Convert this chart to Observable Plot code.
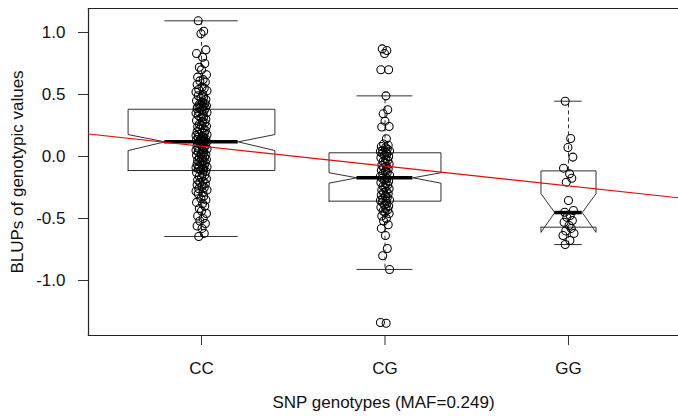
<!DOCTYPE html>
<html><head><meta charset="utf-8">
<script src="https://cdn.jsdelivr.net/npm/d3@7"></script>
<script src="https://cdn.jsdelivr.net/npm/@observablehq/plot@0.6"></script>
<style>body{margin:0;background:#fff}</style>
</head><body><div id="chart"></div>
<script>
// ---- data ----
const categories = ["CC", "CG", "GG"];
const whiskerLow  = [-0.645, -0.911, -0.71];
const q1          = [-0.113, -0.36, -0.57];
const notchLow    = [0.048, -0.215, -0.612];
const median      = [0.118, -0.172, -0.452];
const notchHigh   = [0.177, -0.131, -0.30];
const q3          = [0.381, 0.03, -0.116];
const whiskerHigh = [1.094, 0.489, 0.446];

const ccValues = [1.094, 1.01, 0.99, 0.86, 0.83, 0.80, 0.75, 0.72, 0.70, 0.66, 0.64, 0.62, 0.61, 0.60, 0.58, 0.56, 0.55, 0.54, 0.53, 0.52, 0.50, 0.49, 0.48, 0.47, 0.46, 0.45, 0.44, 0.43, 0.42, 0.42, 0.41, 0.40, 0.40, 0.39, 0.39, 0.385,
  0.375, 0.37, 0.36, 0.355, 0.35, 0.34, 0.33, 0.32, 0.31, 0.30, 0.29, 0.28, 0.27, 0.26, 0.25, 0.245, 0.24, 0.23, 0.22, 0.21, 0.20, 0.195, 0.19, 0.18, 0.175, 0.17, 0.16, 0.155, 0.15, 0.145, 0.14, 0.135, 0.13, 0.125, 0.12, 0.12,
  0.115, 0.11, 0.105, 0.10, 0.09, 0.085, 0.08, 0.07, 0.065, 0.06, 0.05, 0.045, 0.04, 0.03, 0.02, 0.015, 0.01, 0.0, -0.005, -0.01, -0.02, -0.025, -0.03, -0.04, -0.045, -0.05, -0.06, -0.065, -0.07, -0.08, -0.085, -0.09, -0.095, -0.10, -0.105, -0.11,
  -0.12, -0.13, -0.14, -0.15, -0.16, -0.17, -0.18, -0.19, -0.20, -0.21, -0.22, -0.23, -0.24, -0.25, -0.26, -0.27, -0.28, -0.29, -0.30, -0.32, -0.34, -0.35, -0.37, -0.38, -0.40, -0.42, -0.44, -0.46, -0.48, -0.50, -0.52, -0.54, -0.56, -0.58, -0.62, -0.645];
const cgValues = [0.868, 0.855, 0.83, 0.70, 0.70, 0.489, 0.377, 0.344, 0.285, 0.242, 0.238, 0.143, 0.10, 0.09, 0.08, 0.07, 0.06, 0.05, 0.045, 0.04, 0.035,
  0.025, 0.02, 0.01, 0.0, -0.01, -0.02, -0.03, -0.04, -0.05, -0.06, -0.07, -0.08, -0.09, -0.10, -0.11, -0.12, -0.13, -0.14, -0.15, -0.16, -0.17,
  -0.175, -0.18, -0.19, -0.20, -0.21, -0.22, -0.23, -0.24, -0.25, -0.26, -0.27, -0.28, -0.29, -0.30, -0.31, -0.32, -0.33, -0.34, -0.35, -0.355, -0.36,
  -0.37, -0.38, -0.39, -0.40, -0.41, -0.42, -0.43, -0.44, -0.45, -0.46, -0.48, -0.50, -0.52, -0.55, -0.58, -0.637, -0.742, -0.80, -0.911, -1.339, -1.345];
const ggValues = [0.446, 0.145, 0.073, -0.005, -0.094, -0.14, -0.175, -0.207, -0.355, -0.435, -0.45, -0.476, -0.49, -0.516, -0.53, -0.556, -0.58, -0.60, -0.62, -0.637, -0.677, -0.71];

// fixed jitter offsets (fraction of jitter amount), cycled
const jitter = [-0.6, 0.4, -0.1, 0.8, -0.9, 0.2, 0.6, -0.4, 0.0, 0.9, -0.7, 0.3, -0.3, 0.7, -0.8, 0.1, 0.5, -0.5, 1.0, -1.0, 0.25];

// regression line (intercept, slope)
const regIntercept = 0.243;
const regSlope = -0.16;

const yTicks = [-1.0, -0.5, 0.0, 0.5, 1.0];
const xLabel = "SNP genotypes (MAF=0.249)";
const yLabel = "BLUPs of genotypic values";

// ---- styling / layout ----
const boxHalf = [0.40, 0.305, 0.15];
const jitterAmt = [0.03, 0.025, 0.03];
const xDomain = [0.3842, 3.5995];
const yDomain = [-1.4435, 1.1935];

const groups = [ccValues, cgValues, ggValues];
const points = groups.flatMap((vals, g) =>
  vals.map((v, i) => ({pos: g + 1 + jitter[i % jitter.length] * jitterAmt[g], v})));

const boxPts = categories.flatMap((c, i) => {
  const x = i + 1, hw = boxHalf[i], nw = hw / 2;
  return [
    [x - hw, q1[i]], [x - hw, notchLow[i]], [x - nw, median[i]], [x - hw, notchHigh[i]],
    [x - hw, q3[i]], [x + hw, q3[i]], [x + hw, notchHigh[i]], [x + nw, median[i]],
    [x + hw, notchLow[i]], [x + hw, q1[i]], [x - hw, q1[i]]
  ].map(([px, py]) => ({g: c, px, py}));
});

const stats = categories.map((c, i) => ({
  x: i + 1, hw: boxHalf[i], wl: whiskerLow[i], q1: q1[i], med: median[i], q3: q3[i], wh: whiskerHigh[i]
}));

const regPts = xDomain.map(x => ({x, y: regIntercept + regSlope * x}));

const chart = Plot.plot({
  width: 678, height: 417,
  marginLeft: 88, marginRight: 0, marginTop: 8, marginBottom: 82,
  x: {type: "linear", domain: xDomain, axis: null},
  y: {type: "linear", domain: yDomain, axis: null},
  style: {fontFamily: "'Liberation Sans', Arial, Helvetica, sans-serif", fontSize: "17px", background: "#fff", color: "#000"},
  marks: [
    // axes
    Plot.axisY(yTicks, {tickSize: 10, tickPadding: 13, tickFormat: d => d.toFixed(1), stroke: "#333", fill: "#111", label: null}),
    Plot.axisX([1, 2, 3], {tickSize: 10, tickPadding: 16, tickFormat: d => categories[d - 1], stroke: "#333", fill: "#111", label: null}),
    Plot.text([yLabel], {frameAnchor: "left", textAnchor: "middle", dx: -71, rotate: -90, fill: "#111"}),
    Plot.text([xLabel], {frameAnchor: "bottom", textAnchor: "middle", dy: 72.7, fill: "#111"}),
    // frame (top, bottom, left)
    Plot.frame({anchor: "top", stroke: "#222", strokeWidth: 1.2}),
    Plot.frame({anchor: "bottom", stroke: "#222", strokeWidth: 1.2}),
    Plot.frame({anchor: "left", stroke: "#222", strokeWidth: 1.2}),
    // whiskers
    Plot.ruleX(stats, {x: "x", y1: "q3", y2: "wh", stroke: "#333", strokeDasharray: "4,3"}),
    Plot.ruleX(stats, {x: "x", y1: "q1", y2: "wl", stroke: "#333", strokeDasharray: "4,3"}),
    Plot.ruleY(stats, {y: "wh", x1: d => d.x - d.hw / 2, x2: d => d.x + d.hw / 2, stroke: "#333"}),
    Plot.ruleY(stats, {y: "wl", x1: d => d.x - d.hw / 2, x2: d => d.x + d.hw / 2, stroke: "#333"}),
    // notched boxes
    Plot.line(boxPts, {x: "px", y: "py", z: "g", stroke: "#333", strokeWidth: 1}),
    Plot.ruleY(stats, {y: "med", x1: d => d.x - d.hw / 2, x2: d => d.x + d.hw / 2, stroke: "#000", strokeWidth: 3.5}),
    // points
    Plot.dot(points, {x: "pos", y: "v", r: 4, stroke: "#000", strokeWidth: 1.05, fill: "none"}),
    // regression line
    Plot.line(regPts, {x: "x", y: "y", stroke: "#ff0000", strokeWidth: 1.2, clip: true})
  ]
});
document.getElementById("chart").appendChild(chart);
</script>
</body></html>
